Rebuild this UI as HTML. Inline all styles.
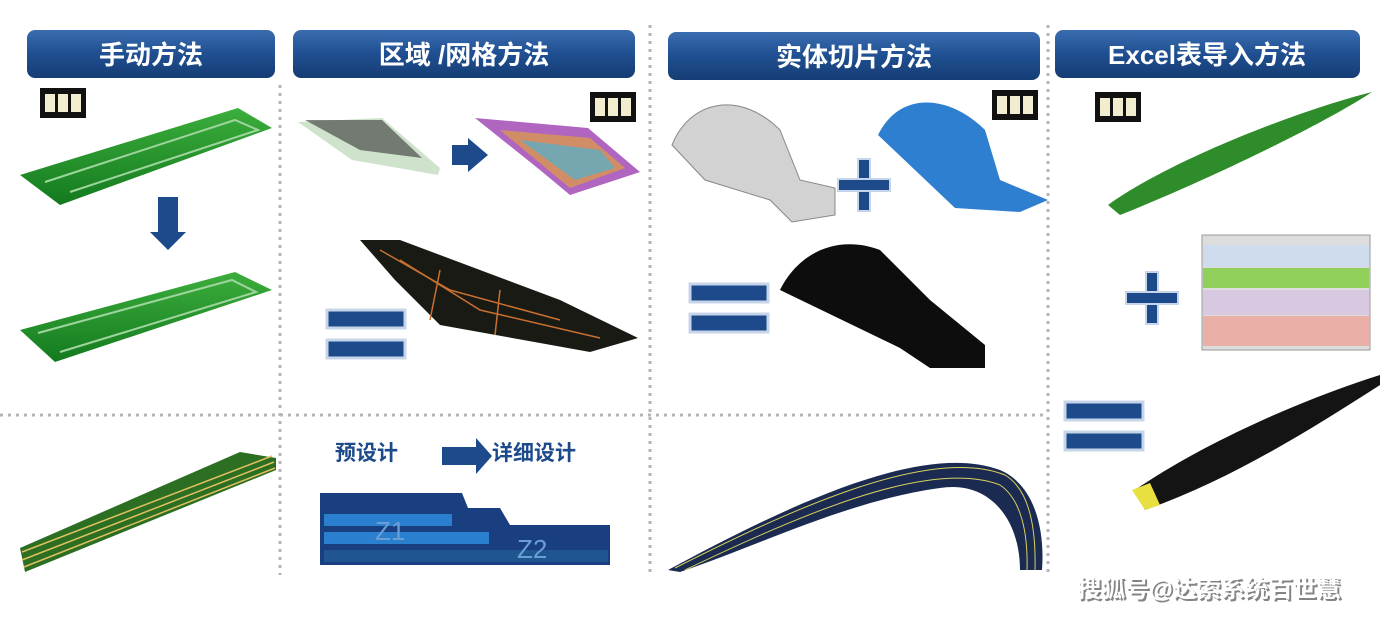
<!DOCTYPE html>
<html><head><meta charset="utf-8"><style>
html,body{margin:0;padding:0;background:#fff;width:1392px;height:618px;overflow:hidden}
svg{display:block}
text{font-family:"Liberation Sans","Noto Sans CJK SC",sans-serif}
</style></head><body>
<svg width="1392" height="618" viewBox="0 0 1392 618" xmlns="http://www.w3.org/2000/svg">
<defs>
<linearGradient id="hb" x1="0" y1="0" x2="0" y2="1"><stop offset="0" stop-color="#3a6db0"/><stop offset="0.5" stop-color="#1f4f91"/><stop offset="1" stop-color="#163d74"/></linearGradient>
<linearGradient id="gr" x1="0" y1="0" x2="0" y2="1"><stop offset="0" stop-color="#3cae3c"/><stop offset="1" stop-color="#137a1e"/></linearGradient>
<g id="film"><rect width="46" height="30" fill="#111"/><rect x="5" y="6" width="10" height="18" fill="#f3edd0"/><rect x="18" y="6" width="10" height="18" fill="#f3edd0"/><rect x="31" y="6" width="10" height="18" fill="#f3edd0"/></g>
<g id="eq"><rect x="0" y="0" width="78" height="18" fill="#1d4a8a" stroke="#c7d5ea" stroke-width="3"/><rect x="0" y="30" width="78" height="18" fill="#1d4a8a" stroke="#c7d5ea" stroke-width="3"/></g>
<g id="plus"><rect x="-6" y="-26" width="12" height="52" fill="#1d4a8a" stroke="#c7d5ea" stroke-width="2"/><rect x="-26" y="-6" width="52" height="12" fill="#1d4a8a" stroke="#c7d5ea" stroke-width="2"/></g>
</defs>
<g stroke="#b5b5b5" stroke-width="3" stroke-dasharray="3 5">
<line x1="280" y1="85" x2="280" y2="575"/><line x1="650" y1="25" x2="650" y2="575"/><line x1="1048" y1="25" x2="1048" y2="575"/>
<line x1="0" y1="415" x2="1045" y2="415"/>
</g>
<g>
<rect x="27" y="30" width="248" height="48" rx="8" fill="url(#hb)"/>
<rect x="293" y="30" width="342" height="48" rx="8" fill="url(#hb)"/>
<rect x="668" y="32" width="372" height="48" rx="8" fill="url(#hb)"/>
<rect x="1055" y="30" width="305" height="48" rx="8" fill="url(#hb)"/>
</g>
<g fill="#fff" font-size="26" font-weight="bold" text-anchor="middle">
<text x="151" y="64">手动方法</text>
<text x="464" y="64">区域 /网格方法</text>
<text x="854" y="66">实体切片方法</text>
<text x="1207" y="64">Excel表导入方法</text>
</g>
<use href="#film" x="40" y="88"/><use href="#film" x="590" y="92"/><use href="#film" x="992" y="90"/><use href="#film" x="1095" y="92"/>
<polygon points="20,175 238,108 272,128 60,205" fill="url(#gr)"/>
<polyline points="45,182 235,120 258,130 70,192" fill="none" stroke="#9ed59e" stroke-width="2"/>
<polygon points="158,197 178,197 178,232 186,232 168,250 150,232 158,232" fill="#1d4a8a"/>
<polygon points="20,330 235,272 272,290 55,362" fill="url(#gr)"/>
<polyline points="38,333 232,280 256,292 60,352" fill="none" stroke="#9ed59e" stroke-width="2"/>
<polygon points="20,548 240,452 276,458 276,470 25,572" fill="#2c6e22"/>
<g stroke="#e0c060" stroke-width="1.5"><line x1="22" y1="552" x2="272" y2="456"/><line x1="22" y1="560" x2="274" y2="462"/><line x1="24" y1="567" x2="275" y2="468"/></g>
<polygon points="298,122 382,118 440,168 438,175 352,160" fill="#cfe3cc"/>
<polygon points="305,120 382,120 422,158 360,150" fill="#333" opacity="0.6"/>
<polygon points="452,145 468,145 468,138 488,155 468,172 468,165 452,165" fill="#1d4a8a"/>
<polygon points="475,118 588,128 640,172 570,195 540,170" fill="#b066c0"/>
<polygon points="500,130 590,138 625,168 570,188" fill="#e0a040" opacity="0.7"/>
<polygon points="520,140 600,150 615,168 575,180" fill="#50b0d0" opacity="0.7"/>
<polygon points="360,240 400,240 560,300 638,338 590,352 440,325 395,280" fill="#1a1a14"/>
<g stroke="#c87030" stroke-width="1.5" fill="none"><polyline points="380,250 450,290 560,320"/><polyline points="400,260 480,310 600,338"/><line x1="440" y1="270" x2="430" y2="320"/><line x1="500" y1="290" x2="495" y2="335"/></g>
<use href="#eq" x="327" y="310"/>
<g fill="#1d4a8a" font-size="21" font-weight="bold"><text x="335" y="460">预设计</text><text x="492" y="460">详细设计</text></g>
<polygon points="442,447 476,447 476,438 492,456 476,474 476,465 442,465" fill="#1d4a8a"/>
<polygon points="320,493 462,493 468,508 500,508 510,525 610,525 610,565 320,565" fill="#1a3f80"/>
<rect x="324" y="514" width="128" height="12" fill="#2a7fcf"/><rect x="324" y="532" width="165" height="12" fill="#2a7fcf"/>
<rect x="324" y="550" width="284" height="12" fill="#20558f"/>
<text x="375" y="540" font-size="26" fill="#6a9fd5">Z1</text><text x="517" y="558" font-size="26" fill="#6a9fd5">Z2</text>
<path d="M672,145 C690,100 740,90 780,130 L800,180 L835,188 L835,215 L792,222 L770,200 L705,180 Z" fill="#d2d2d2" stroke="#888"/>
<use href="#plus" x="864" y="185"/>
<path d="M878,135 C900,90 950,95 985,130 L1000,180 L1048,200 L1020,212 L955,208 Z" fill="#2f7fd0"/>
<use href="#eq" x="690" y="284"/>
<path d="M780,290 C800,250 840,235 880,250 L930,300 L985,345 L985,368 L930,368 L900,348 Z" fill="#0d0d0d"/>
<path d="M668,570 C780,510 920,440 1000,470 C1035,485 1045,530 1042,570 L1020,570 C1020,520 990,480 940,488 C850,500 760,545 680,572 Z" fill="#1a2a50"/>
<g stroke="#d8d060" stroke-width="1" fill="none"><path d="M675,568 C790,510 930,445 1005,475 C1030,490 1036,530 1035,570"/><path d="M685,570 C800,515 930,458 1000,485 C1022,500 1028,535 1027,570"/></g>
<path d="M1108,205 C1170,160 1300,110 1372,92 C1330,120 1220,175 1120,215 Z" fill="#2f8c2a"/>
<use href="#plus" x="1152" y="298"/>
<rect x="1202" y="235" width="168" height="115" fill="#ddd" stroke="#999"/>
<rect x="1203" y="268" width="166" height="20" fill="#8fcf5a"/><rect x="1203" y="245" width="166" height="22" fill="#cfdcee"/>
<rect x="1203" y="290" width="166" height="25" fill="#d8c8e0"/><rect x="1203" y="316" width="166" height="30" fill="#eab0a8"/>
<use href="#eq" x="1065" y="402"/>
<path d="M1135,490 C1200,445 1300,400 1380,375 L1380,385 C1310,430 1230,480 1145,510 Z" fill="#141414"/>
<path d="M1132,490 L1145,510 L1160,505 L1150,483 Z" fill="#e8e040"/>
<text x="1211" y="599" font-size="24" font-weight="bold" fill="#333" text-anchor="middle" opacity="0.6">搜狐号@达索系统百世慧</text>
<text x="1209" y="597" font-size="24" font-weight="bold" fill="#fff" text-anchor="middle">搜狐号@达索系统百世慧</text>
</svg>
</body></html>
